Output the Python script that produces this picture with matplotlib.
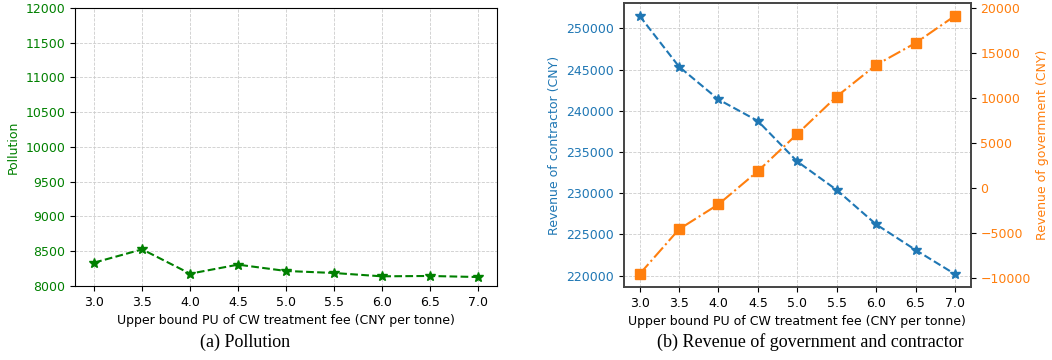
import matplotlib
matplotlib.use("Agg")
import matplotlib.pyplot as plt

# Upper bound PU of CW treatment fee
fees = [3.0, 3.5, 4.0, 4.5, 5.0, 5.5, 6.0, 6.5, 7.0]

pollution = [8336, 8527, 8177, 8307, 8216, 8187, 8139, 8144, 8129]
rev_contractor = [251500, 245350, 241370, 238760, 233850, 230400, 226230, 223130, 220200]
rev_government = [-9610, -4620, -1850, 1840, 5980, 10150, 13660, 16100, 19120]

xlabel = "Upper bound PU of CW treatment fee (CNY per tonne)"

plt.rcParams["font.size"] = 9

fig = plt.figure(figsize=(10.52, 3.6), dpi=100)

# (a) Pollution
ax1 = fig.add_axes([0.0713, 0.2056, 0.4011, 0.7722])
ax1.plot(fees, pollution, linestyle="--", marker="*", color="green",
         linewidth=1.5, markersize=7)
ax1.set_ylim(8000, 12000)
ax1.set_xticks(fees)
ax1.set_ylabel("Pollution", color="green")
ax1.tick_params(axis="y", labelcolor="green")
ax1.set_xlabel(xlabel)
ax1.grid(True, linestyle="--", linewidth=0.6, color="#cccccc")

# (b) Revenue of government and contractor
ax2 = fig.add_axes([0.593, 0.2028, 0.3297, 0.7889])
ax2.plot(fees, rev_contractor, linestyle="--", marker="*", color="tab:blue",
         linewidth=1.5, markersize=7)
ax2.set_xticks(fees)
ax2.set_ylabel("Revenue of contractor (CNY)", color="tab:blue")
ax2.tick_params(axis="y", labelcolor="tab:blue")
ax2.set_xlabel(xlabel)
ax2.grid(True, linestyle="--", linewidth=0.6, color="#cccccc")

ax3 = ax2.twinx()
ax3.plot(fees, rev_government, linestyle="-.", marker="s", color="tab:orange",
         linewidth=1.5, markersize=7)
ax3.set_ylabel("Revenue of government (CNY)", color="tab:orange")
ax3.tick_params(axis="y", labelcolor="tab:orange")

for ax in (ax2, ax3):
    for s in ax.spines.values():
        s.set_color("#444444")
        s.set_linewidth(1.2)

# captions
fig.text(0.233, 0.05, "(a) Pollution", ha="center", va="center",
         family="Liberation Serif", fontsize=13)
fig.text(0.77, 0.05, "(b) Revenue of government and contractor", ha="center",
         va="center", family="Liberation Serif", fontsize=13)

fig.savefig("out.png", dpi=100)
